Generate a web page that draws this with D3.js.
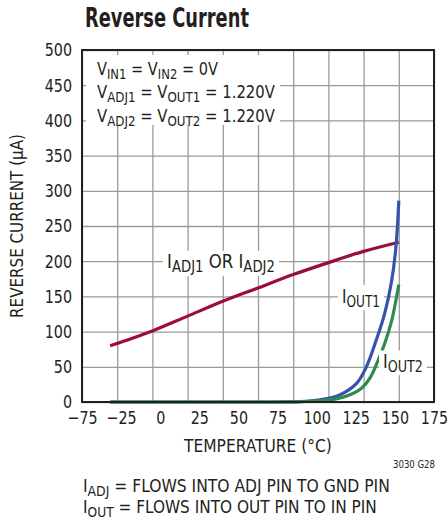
<!DOCTYPE html>
<html>
<head>
<meta charset="utf-8">
<script src="https://cdn.jsdelivr.net/npm/d3@7"></script>
<style>
  body { margin: 0; background: #fff; }
  svg text { font-family: "DejaVu Sans Condensed", "Liberation Sans Narrow", sans-serif; fill: #231f20; }
  .grid line { stroke: #9a9a9a; stroke-width: 1.3; }
  .grid path { display: none; }
  .tick-lab text { font-size: 18.5px; }
  .tick-lab path, .tick-lab line { display: none; }
  .curve { fill: none; stroke-width: 3.2; }
</style>
</head>
<body>
<script>
// temperature grid (°C) and the printed tick labels
var xGridTicks = [-75, -50, -25, 0, 25, 50, 75, 100, 125, 150, 175];
var xTickLabels = ['\u221275', '\u221225', '0', '25', '50', '75', '100', '125', '150', '175'];
var yTicks = [0, 50, 100, 150, 200, 250, 300, 350, 400, 450, 500];

// I_ADJ1 or I_ADJ2 (µA)
var tempAdj = [-55, -25, 0, 25, 50, 75, 100, 125, 150];
var iAdj = [80, 101, 122, 143, 162, 181, 198, 214, 227];

// I_OUT1 (µA)
var tempOut1 = [-55, 0, 50, 80, 94, 108, 120, 127, 134, 140, 145, 148, 150];
var iOut1 = [0, 0, 0, 0.5, 3, 10, 26.5, 50, 88, 126, 173, 221, 286];

// I_OUT2 (µA)
var tempOut2 = [-55, 0, 50, 80, 101, 113, 123.5, 129.5, 135.5, 140, 145, 148.5, 150];
var iOut2 = [0, 0, 0, 0.5, 3, 8.5, 19.5, 34, 60, 83, 116, 150, 167];

var mLeft = 82, mTop = 50, W = 352, H = 352;

var svg = d3.select('body').append('svg')
    .attr('width', 448)
    .attr('height', 521);

// squeeze a text horizontally to a given width (the font here is wider than the original)
function fitWidth(sel, w) {
  var node = sel.node();
  var bb = node.getBBox();
  var anchor = sel.attr('text-anchor') || 'start';
  var px = anchor === 'middle' ? bb.x + bb.width / 2 : (anchor === 'end' ? bb.x + bb.width : bb.x);
  sel.attr('transform', 'translate(' + px + ',0) scale(' + (w / bb.width) + ',1) translate(' + (-px) + ',0)');
}

// text with subscripts: parts are [string, isSub]
function subText(sel, parts, size) {
  var prevSub = false;
  parts.forEach(function(p) {
    var sub = !!p[1];
    sel.append('tspan')
        .style('font-size', sub ? (size * 0.8) + 'px' : size + 'px')
        .attr('dy', sub === prevSub ? 0 : (sub ? 4 : -4))
        .text(p[0]);
    prevSub = sub;
  });
}

// title
svg.append('text')
    .attr('x', 85)
    .attr('y', 27)
    .style('font-size', '26px')
    .style('font-weight', 'bold')
    .text('Reverse Current')
    .call(fitWidth, 164);

var g = svg.append('g').attr('transform', 'translate(' + mLeft + ',' + mTop + ')');

var x = d3.scaleLinear().domain([-75, 175]).range([0, W]);
var y = d3.scaleLinear().domain([0, 500]).range([H, 0]);
var xLab = d3.scalePoint().domain(xTickLabels).range([0, W]);

// grid
g.append('g')
    .attr('class', 'grid')
    .attr('transform', 'translate(0,' + H + ')')
    .call(d3.axisBottom(x).tickValues(xGridTicks).tickSize(-H).tickFormat(''));
g.append('g')
    .attr('class', 'grid')
    .call(d3.axisLeft(y).tickValues(yTicks).tickSize(-W).tickFormat(''));

// tick labels
g.append('g')
    .attr('class', 'tick-lab')
    .attr('transform', 'translate(0,' + H + ')')
    .call(d3.axisBottom(xLab).tickSize(0).tickPadding(9))
    .selectAll('text')
    .attr('transform', 'scale(0.86,1)');
g.append('g')
    .attr('class', 'tick-lab')
    .call(d3.axisLeft(y).tickValues(yTicks).tickSize(0).tickPadding(10))
    .selectAll('text')
    .attr('transform', 'translate(-10,0) scale(0.86,1) translate(10,0)');

// annotation box at top left (covers grid)
var note = g.append('g');
var noteLines = [
  [['V', 0], ['IN1', 1], [' = V', 0], ['IN2', 1], [' = 0V', 0]],
  [['V', 0], ['ADJ1', 1], [' = V', 0], ['OUT1', 1], [' = 1.220V', 0]],
  [['V', 0], ['ADJ2', 1], [' = V', 0], ['OUT2', 1], [' = 1.220V', 0]]
];
var noteWidths = [121, 178, 178];
note.append('rect')
    .attr('x', 4).attr('y', 5)
    .attr('width', 194).attr('height', 70)
    .attr('fill', '#fff');
noteLines.forEach(function(parts, i) {
  var t = note.append('text')
      .attr('x', 15)
      .attr('y', 25 + i * 23.5);
  subText(t, parts, 18);
  fitWidth(t, noteWidths[i]);
});

// curves
var line = d3.line()
    .x(function(d) { return x(d[0]); })
    .y(function(d) { return y(d[1]); })
    .curve(d3.curveCatmullRom.alpha(0.5));

g.append('path')
    .attr('class', 'curve')
    .attr('stroke', '#9b0d3c')
    .attr('d', line(d3.zip(tempAdj, iAdj)));
g.append('path')
    .attr('class', 'curve')
    .attr('stroke', '#3652ac')
    .attr('d', line(d3.zip(tempOut1, iOut1)));
g.append('path')
    .attr('class', 'curve')
    .attr('stroke', '#2e8b4e')
    .attr('d', line(d3.zip(tempOut2, iOut2)));

// curve labels with white backing
function curveLabel(parts, lx, ly, w) {
  var lg = g.append('g');
  var bg = lg.append('rect').attr('fill', '#fff');
  var t = lg.append('text').attr('x', lx).attr('y', ly);
  subText(t, parts, 19);
  fitWidth(t, w);
  var bb = t.node().getBBox();
  bg.attr('x', bb.x - 4).attr('y', bb.y).attr('width', w + 8).attr('height', bb.height);
}
curveLabel([['I', 0], ['ADJ1', 1], [' OR I', 0], ['ADJ2', 1]], 85, 218, 108);
curveLabel([['I', 0], ['OUT1', 1]], 260, 253, 38);
curveLabel([['I', 0], ['OUT2', 1]], 301, 318, 40);

// frame
g.append('rect')
    .attr('width', W).attr('height', H)
    .attr('fill', 'none')
    .attr('stroke', '#231f20')
    .attr('stroke-width', 2);

// axis titles
svg.append('text')
    .attr('x', mLeft + W / 2)
    .attr('y', 452)
    .attr('text-anchor', 'middle')
    .style('font-size', '18.5px')
    .text('TEMPERATURE (\u00B0C)')
    .call(fitWidth, 149);
svg.append('g')
    .attr('transform', 'translate(23,' + (mTop + H / 2) + ') rotate(-90)')
    .append('text')
    .attr('text-anchor', 'middle')
    .style('font-size', '18.5px')
    .text('REVERSE CURRENT (\u00B5A)')
    .call(fitWidth, 184);

svg.append('text')
    .attr('x', 435)
    .attr('y', 468)
    .attr('text-anchor', 'end')
    .style('font-size', '11px')
    .text('3030 G28')
    .call(fitWidth, 42);

// footnotes
var foot = [
  [['I', 0], ['ADJ', 1], [' = FLOWS INTO ADJ PIN TO GND PIN', 0]],
  [['I', 0], ['OUT', 1], [' = FLOWS INTO OUT PIN TO IN PIN', 0]]
];
var footWidths = [307, 294];
foot.forEach(function(parts, i) {
  var t = svg.append('text')
      .attr('x', 83)
      .attr('y', 492 + i * 21.5);
  subText(t, parts, 18.5);
  fitWidth(t, footWidths[i]);
});
</script>
</body>
</html>
